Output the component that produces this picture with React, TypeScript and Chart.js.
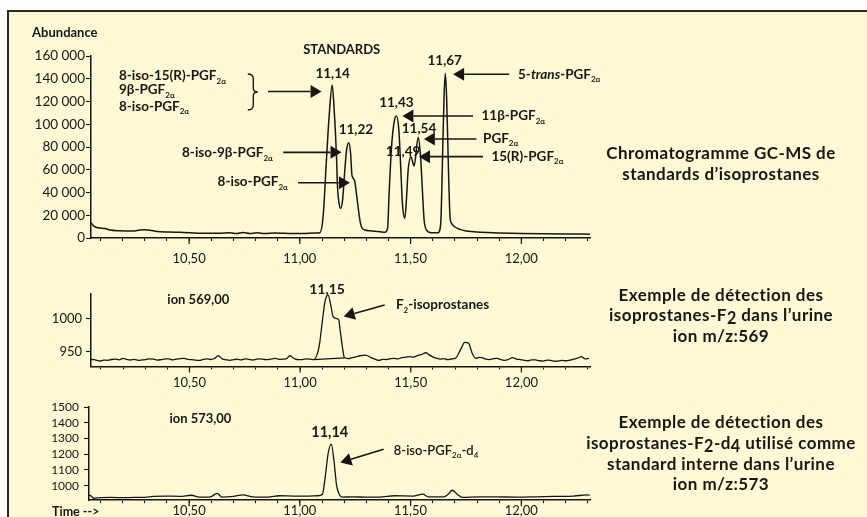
import React, { useEffect, useRef } from "react";
import { Chart, registerables } from "chart.js";

Chart.register(...registerables);

const FONT = "Lato, 'Open Sans', 'DejaVu Sans', sans-serif";
const INK = "#161616";
const CREAM = "#FFF8D4";

// ---- time axis (minutes) ----
const X_TICKS = [10.1, 10.2, 10.3, 10.4, 10.5, 10.6, 10.7, 10.8, 10.9, 11.0, 11.1, 11.2, 11.3, 11.4, 11.5, 11.6, 11.7, 11.8, 11.9, 12.0, 12.1, 12.2, 12.3];
const X_MAJOR = [10.5, 11.0, 11.5, 12.0];
const X_MAX = 12.31;

// ---- chromatogram 1: standards (abundance) ----
const STD_Y_TICKS = [0, 20000, 40000, 60000, 80000, 100000, 120000, 140000, 160000];
const STD_TIME = [
  10.057, 10.07, 10.088, 10.12, 10.143, 10.188, 10.246, 10.278, 10.3, 10.323, 10.355, 10.413, 10.458, 10.504,
  10.549, 10.594, 10.639, 10.684, 10.716, 10.743, 10.774, 10.806, 10.842, 10.887, 10.932, 10.977, 11.023,
  11.068, 11.09, 11.105, 11.12, 11.132, 11.146, 11.155, 11.166, 11.17, 11.177, 11.184, 11.193, 11.203, 11.211,
  11.221, 11.229, 11.235, 11.241, 11.248, 11.259, 11.271, 11.278, 11.293, 11.316, 11.338, 11.361, 11.384,
  11.396, 11.403, 11.414, 11.426, 11.436, 11.447, 11.456, 11.463, 11.474, 11.481, 11.489, 11.501, 11.516,
  11.534, 11.545, 11.554, 11.561, 11.572, 11.594, 11.624, 11.636, 11.644, 11.651, 11.657, 11.663, 11.671,
  11.678, 11.685, 11.699, 11.722, 11.752, 11.8, 11.9, 12.0, 12.1, 12.2, 12.31,
];
const STD_ABUNDANCE = [
  13500, 10500, 9000, 8300, 7000, 6400, 6100, 7000, 7200, 6800, 5700, 5300, 5000, 4700,
  4100, 4100, 4200, 4600, 3900, 4800, 3900, 4600, 3900, 4300, 4100, 3900, 4000,
  4300, 4600, 18700, 68600, 106600, 134500, 112500, 68600, 45100, 30500, 26100, 33400, 59800, 77400,
  83800, 74500, 55400, 52500, 49500, 33400, 15800, 9900, 7000, 6400, 5900, 5500, 5000,
  8500, 39300, 80300, 102200, 107300, 94900, 59800, 30500, 17300, 33400, 59800, 71500, 63300,
  88500, 71500, 39300, 15800, 7000, 4700, 4700, 12900, 68600, 124200, 144800, 121300, 59800,
  18700, 12900, 9900, 7600, 6200, 5200, 4500, 4000, 3700, 3500, 3400,
];

// ---- chromatogram 2: ion 569 ----
const ION569_Y_TICKS = [950, 1000];
const ION569_TIME = [
  10.055, 10.069, 10.082, 10.095, 10.112, 10.13, 10.147, 10.164, 10.182, 10.2, 10.216, 10.233, 10.25, 10.269,
  10.286, 10.303, 10.32, 10.338, 10.355, 10.372, 10.39, 10.407, 10.424, 10.441, 10.458, 10.476, 10.493,
  10.51, 10.528, 10.545, 10.562, 10.579, 10.596, 10.613, 10.63, 10.648, 10.665, 10.682, 10.7, 10.717, 10.734,
  10.751, 10.768, 10.786, 10.803, 10.82, 10.838, 10.855, 10.872, 10.889, 10.906, 10.924, 10.94, 10.953, 10.976,
  10.994, 11.011, 11.028, 11.045, 11.062, 11.079, 11.088, 11.1, 11.112, 11.126, 11.14, 11.149, 11.166, 11.175,
  11.18, 11.192, 11.2, 11.218, 11.235, 11.252, 11.27, 11.296, 11.321, 11.338, 11.356, 11.373, 11.39, 11.408,
  11.425, 11.442, 11.459, 11.477, 11.494, 11.511, 11.528, 11.548, 11.569, 11.583, 11.597, 11.615, 11.632,
  11.65, 11.667, 11.684, 11.701, 11.727, 11.744, 11.761, 11.778, 11.796, 11.809, 11.822, 11.839, 11.856,
  11.873, 11.89, 11.908, 11.926, 11.943, 11.96, 11.978, 11.995, 12.012, 12.029, 12.046, 12.064, 12.081,
  12.098, 12.116, 12.133, 12.15, 12.167, 12.184, 12.202, 12.219, 12.236, 12.254, 12.271, 12.288, 12.306,
];
const ION569_VALUE = [
  938.0, 937.9, 936.8, 935.6, 937.2, 936.7, 938.0, 938.5, 937.6, 939.6, 938.3, 937.3, 938.1, 936.7,
  937.4, 937.9, 939.0, 938.5, 937.2, 937.9, 938.9, 939.0, 937.6, 938.5, 939.4, 939.6, 938.1,
  937.9, 937.0, 936.7, 938.2, 939.0, 938.0, 939.6, 943.7, 939.0, 937.6, 936.7, 937.8, 938.5, 937.4,
  939.0, 938.3, 937.3, 938.6, 939.0, 938.0, 937.9, 939.1, 939.6, 938.3, 938.5, 939.5, 943.7, 939.0,
  937.8, 937.9, 939.0, 938.5, 937.9, 948, 962, 995, 1025, 1036, 1018, 1003, 1000, 998,
  985, 955, 941, 939.5, 940.8, 942.0, 943.7, 944.8, 940.8, 938.6, 936.7, 938.3, 937.9, 939.2,
  939.6, 939.0, 940.8, 941.4, 942.5, 941.6, 943.7, 945.5, 948.3, 945.0, 942.5, 940.2, 938.5,
  939.4, 937.9, 938.8, 939.6, 954.1, 963.9, 962.8, 947.2, 939.6, 941.2, 940.8, 938.6, 937.9,
  939.2, 939.6, 938.0, 936.7, 938.4, 940.8, 938.7, 937.9, 936.8, 936.1, 937.5, 937.3, 936.2,
  935.6, 937.0, 936.7, 935.4, 935.6, 936.8, 936.1, 937.0, 938.5, 940.0, 942.5, 939.0, 939.6,
];
const ION569_BASE_TIME = [11.062, 11.2];
const ION569_BASE_VALUE = [937.9, 940.5];

// ---- chromatogram 3: ion 573 ----
const ION573_Y_TICKS = [1000, 1100, 1200, 1300, 1400, 1500];
const ION573_TIME = [
  10.048, 10.052, 10.069, 10.1, 10.15, 10.2, 10.25, 10.3, 10.337, 10.389, 10.458, 10.51, 10.545, 10.596,
  10.627, 10.648, 10.7, 10.743, 10.786, 10.855, 10.907, 10.976, 11.028, 11.08, 11.102, 11.114, 11.128,
  11.142, 11.154, 11.166, 11.18, 11.192, 11.235, 11.304, 11.373, 11.425, 11.511, 11.555, 11.58, 11.65,
  11.67, 11.688, 11.71, 11.735, 11.805, 11.89, 11.977, 12.064, 12.15, 12.236, 12.297, 12.309,
];
const ION573_VALUE = [
  936, 939, 920, 924, 925, 924, 925, 926, 932, 934, 932, 939, 927, 929,
  951, 927, 932, 941, 929, 927, 936, 934, 934, 936, 946, 1049, 1207,
  1264, 1159, 1000, 939, 927, 929, 927, 929, 936, 934, 946, 929, 929,
  946, 971, 946, 925, 929, 929, 927, 929, 932, 934, 941, 940,
];

// ---- annotations (in data units of each chart) ----
type Part = { s: string; sub?: boolean; it?: boolean };
type Ann =
  | { kind: "text"; t: number; v: number; parts: Part[]; align: "left" | "center" | "right"; size: number; weight: number }
  | { kind: "arrow"; t1: number; v1: number; t2: number; v2: number }
  | { kind: "brace"; t: number; v1: number; v2: number };

const SUB = (s: string): Part => ({ s, sub: true });
const P = (s: string): Part => ({ s });

const STD_ANN: Ann[] = [
  { kind: "text", t: 9.791, v: 180200, parts: [P("Abundance")], align: "left", size: 13, weight: 700 },
  { kind: "text", t: 11.189, v: 165300, parts: [P("STANDARDS")], align: "center", size: 13, weight: 700 },
  { kind: "text", t: 11.148, v: 144800, parts: [P("11,14")], align: "center", size: 13.5, weight: 700 },
  { kind: "text", t: 11.253, v: 94900, parts: [P("11,22")], align: "center", size: 13.5, weight: 700 },
  { kind: "text", t: 11.436, v: 118900, parts: [P("11,43")], align: "center", size: 13.5, weight: 700 },
  { kind: "text", t: 11.538, v: 96400, parts: [P("11,54")], align: "center", size: 13.5, weight: 700 },
  { kind: "text", t: 11.466, v: 75900, parts: [P("11,49")], align: "center", size: 13.5, weight: 700 },
  { kind: "text", t: 11.654, v: 155900, parts: [P("11,67")], align: "center", size: 13.5, weight: 700 },
  { kind: "text", t: 10.183, v: 142400, parts: [P("8-iso-15(R)-PGF"), SUB("2α")], align: "left", size: 13.5, weight: 700 },
  { kind: "text", t: 10.183, v: 130100, parts: [P("9β-PGF"), SUB("2α")], align: "left", size: 13.5, weight: 700 },
  { kind: "text", t: 10.183, v: 115400, parts: [P("8-iso-PGF"), SUB("2α")], align: "left", size: 13.5, weight: 700 },
  { kind: "brace", t: 10.765, v1: 144200, v2: 112500 },
  { kind: "arrow", t1: 10.856, v1: 128800, t2: 11.098, v2: 128800 },
  { kind: "text", t: 10.878, v: 74700, parts: [P("8-iso-9β-PGF"), SUB("2α")], align: "right", size: 13.5, weight: 700 },
  { kind: "arrow", t1: 10.925, v1: 75300, t2: 11.188, v2: 75300 },
  { kind: "text", t: 10.946, v: 49400, parts: [P("8-iso-PGF"), SUB("2α")], align: "right", size: 13.5, weight: 700 },
  { kind: "arrow", t1: 10.992, v1: 48600, t2: 11.226, v2: 48600 },
  { kind: "text", t: 11.985, v: 143900, parts: [P("5-"), { s: "trans", it: true }, P("-PGF"), SUB("2α")], align: "left", size: 13.5, weight: 700 },
  { kind: "arrow", t1: 11.945, v1: 143900, t2: 11.692, v2: 143900 },
  { kind: "text", t: 11.82, v: 107300, parts: [P("11β-PGF"), SUB("2α")], align: "left", size: 13.5, weight: 700 },
  { kind: "arrow", t1: 11.782, v1: 107300, t2: 11.463, v2: 107300 },
  { kind: "text", t: 11.827, v: 87500, parts: [P("PGF"), SUB("2α")], align: "left", size: 13.5, weight: 700 },
  { kind: "arrow", t1: 11.797, v1: 87000, t2: 11.56, v2: 87000 },
  { kind: "text", t: 11.865, v: 71500, parts: [P("15(R)-PGF"), SUB("2α")], align: "left", size: 13.5, weight: 700 },
  { kind: "arrow", t1: 11.827, v1: 71500, t2: 11.538, v2: 71500 },
];

const ION569_ANN: Ann[] = [
  { kind: "text", t: 11.122, v: 1044.8, parts: [P("11,15")], align: "center", size: 14, weight: 700 },
  { kind: "text", t: 10.4, v: 1028, parts: [P("ion 569,00")], align: "left", size: 13, weight: 700 },
  { kind: "arrow", t1: 11.382, v1: 1020.8, t2: 11.197, v2: 1003.3 },
  { kind: "text", t: 11.433, v: 1020.6, parts: [P("F"), SUB("2"), P("-isoprostanes")], align: "left", size: 13.5, weight: 700 },
];

const ION573_ANN: Ann[] = [
  { kind: "text", t: 10.411, v: 1426.8, parts: [P("ion 573,00")], align: "left", size: 13, weight: 700 },
  { kind: "text", t: 11.135, v: 1342, parts: [P("11,14")], align: "center", size: 14.5, weight: 700 },
  { kind: "arrow", t1: 11.378, v1: 1231.8, t2: 11.183, v2: 1146.5 },
  { kind: "text", t: 11.424, v: 1221, parts: [P("8-iso-PGF"), SUB("2α"), P("-d"), SUB("4")], align: "left", size: 13, weight: 600 },
  { kind: "text", t: 9.881, v: 834.4, parts: [P("Time -->")], align: "left", size: 12.5, weight: 700 },
];

function drawParts(ctx: CanvasRenderingContext2D, x: number, y: number, parts: Part[], align: string, size: number, weight: number) {
  const subSize = Math.round(size * 0.62);
  const fontOf = (p: Part) => `${p.it ? "italic " : ""}${weight} ${p.sub ? subSize : size}px ${FONT}`;
  let w = 0;
  for (const p of parts) {
    ctx.font = fontOf(p);
    w += ctx.measureText(p.s).width;
  }
  let cx = align === "left" ? x : align === "right" ? x - w : x - w / 2;
  ctx.textAlign = "left";
  ctx.textBaseline = "middle";
  ctx.fillStyle = INK;
  for (const p of parts) {
    ctx.font = fontOf(p);
    ctx.fillText(p.s, cx, p.sub ? y + size * 0.38 : y);
    cx += ctx.measureText(p.s).width;
  }
}

function drawArrow(ctx: CanvasRenderingContext2D, x1: number, y1: number, x2: number, y2: number) {
  const ang = Math.atan2(y2 - y1, x2 - x1);
  const hl = 11;
  const hw = 6.5;
  const bx = x2 - hl * Math.cos(ang);
  const by = y2 - hl * Math.sin(ang);
  ctx.strokeStyle = INK;
  ctx.fillStyle = INK;
  ctx.lineWidth = 1.6;
  ctx.beginPath();
  ctx.moveTo(x1, y1);
  ctx.lineTo(bx, by);
  ctx.stroke();
  ctx.beginPath();
  ctx.moveTo(x2, y2);
  ctx.lineTo(bx + hw * Math.sin(ang), by - hw * Math.cos(ang));
  ctx.lineTo(bx - hw * Math.sin(ang), by + hw * Math.cos(ang));
  ctx.closePath();
  ctx.fill();
}

function drawBrace(ctx: CanvasRenderingContext2D, x0: number, top: number, bottom: number) {
  const w = 10;
  const mid = (top + bottom) / 2;
  const sx = x0 + w * 0.55;
  ctx.strokeStyle = INK;
  ctx.lineWidth = 1.4;
  ctx.beginPath();
  ctx.moveTo(x0, top);
  ctx.quadraticCurveTo(sx, top, sx, top + 5);
  ctx.lineTo(sx, mid - 4);
  ctx.quadraticCurveTo(sx, mid, x0 + w, mid);
  ctx.quadraticCurveTo(sx, mid, sx, mid + 4);
  ctx.lineTo(sx, bottom - 5);
  ctx.quadraticCurveTo(sx, bottom, x0, bottom);
  ctx.stroke();
}

function annotationPlugin(id: string, anns: Ann[]) {
  return {
    id,
    afterDraw(chart: any) {
      const ctx: CanvasRenderingContext2D = chart.ctx;
      const xs = chart.scales.x;
      const ys = chart.scales.y;
      const X = (t: number) => xs.getPixelForValue(t);
      const Y = (v: number) => ys.getPixelForValue(v);
      ctx.save();
      // longer major ticks on the time axis
      ctx.strokeStyle = INK;
      ctx.lineWidth = 1.2;
      for (const t of X_MAJOR) {
        ctx.beginPath();
        ctx.moveTo(X(t), chart.chartArea.bottom);
        ctx.lineTo(X(t), chart.chartArea.bottom + 6);
        ctx.stroke();
      }
      for (const a of anns) {
        if (a.kind === "text") drawParts(ctx, X(a.t), Y(a.v), a.parts, a.align, a.size, a.weight);
        else if (a.kind === "arrow") drawArrow(ctx, X(a.t1), Y(a.v1), X(a.t2), Y(a.v2));
        else drawBrace(ctx, X(a.t), Y(a.v1), Y(a.v2));
      }
      ctx.restore();
    },
  };
}

const fmtTime = (v: number) => v.toFixed(2).replace(".", ",");
const isMajor = (v: number) => X_MAJOR.some((m) => Math.abs(m - v) < 1e-6);
const fmtThousands = (v: number) => String(Math.round(v)).replace(/\B(?=(\d{3})+(?!\d))/g, " ");

type Cfg = {
  canvas: HTMLCanvasElement;
  time: number[];
  values: number[];
  extra?: { time: number[]; values: number[] };
  xMin: number;
  yMin: number;
  yMax: number;
  yTicks: number[];
  yWidth: number;
  xHeight: number;
  padTop: number;
  xPad: number;
  yPad: number;
  yFont: number;
  lineWidth: number;
  yFmt: (v: number) => string;
  anns: Ann[];
  id: string;
};

function makeChart(c: Cfg) {
  const datasets: any[] = [
    {
      data: c.time.map((t, i) => ({ x: t, y: c.values[i] })),
      borderColor: INK,
      borderWidth: c.lineWidth,
      pointRadius: 0,
      fill: false,
      cubicInterpolationMode: "monotone",
    },
  ];
  if (c.extra) {
    datasets.push({
      data: c.extra.time.map((t, i) => ({ x: t, y: c.extra!.values[i] })),
      borderColor: INK,
      borderWidth: 1.2,
      pointRadius: 0,
      fill: false,
    });
  }
  return new Chart(c.canvas, {
    type: "line",
    data: { datasets },
    options: {
      animation: false,
      responsive: false,
      events: [],
      layout: { padding: { left: 0, right: 10, top: c.padTop, bottom: 0 } },
      plugins: { legend: { display: false }, tooltip: { enabled: false }, title: { display: false } },
      scales: {
        x: {
          type: "linear",
          min: c.xMin,
          max: X_MAX,
          afterBuildTicks: (s: any) => {
            s.ticks = X_TICKS.map((v) => ({ value: v }));
          },
          afterFit: (s: any) => {
            s.height = c.xHeight;
          },
          grid: { display: true, drawOnChartArea: false, drawTicks: true, tickLength: 3, color: INK, tickColor: INK, tickWidth: 1.1 },
          border: { display: true, color: INK, width: 1.5 },
          ticks: {
            autoSkip: false,
            maxRotation: 0,
            padding: c.xPad,
            color: INK,
            font: { family: FONT, size: 13 },
            callback: (v: any) => (isMajor(Number(v)) ? fmtTime(Number(v)) : ""),
          },
        },
        y: {
          type: "linear",
          min: c.yMin,
          max: c.yMax,
          afterBuildTicks: (s: any) => {
            s.ticks = c.yTicks.map((v) => ({ value: v }));
          },
          afterFit: (s: any) => {
            s.width = c.yWidth;
          },
          grid: { display: true, drawOnChartArea: false, drawTicks: true, tickLength: 5, color: INK, tickColor: INK, tickWidth: 1.1 },
          border: { display: true, color: INK, width: 1.5 },
          ticks: {
            autoSkip: false,
            padding: c.yPad,
            color: INK,
            font: { family: FONT, size: c.yFont },
            callback: (v: any) => c.yFmt(Number(v)),
          },
        },
      },
    } as any,
    plugins: [annotationPlugin(c.id, c.anns)],
  });
}

const lineStyle: React.CSSProperties = { whiteSpace: "nowrap" };
const subStyle: React.CSSProperties = { fontSize: "0.95em", position: "relative", top: "3px" };

export default function App() {
  const r1 = useRef<HTMLCanvasElement>(null);
  const r2 = useRef<HTMLCanvasElement>(null);
  const r3 = useRef<HTMLCanvasElement>(null);

  useEffect(() => {
    const charts: Chart[] = [];
    charts.push(
      makeChart({
        canvas: r1.current!, time: STD_TIME, values: STD_ABUNDANCE, xMin: 10.057, yMin: 0, yMax: 160000,
        yTicks: STD_Y_TICKS, yWidth: 91, xHeight: 30, padTop: 56, xPad: 10, yPad: 1, yFont: 13.5, lineWidth: 1.5,
        yFmt: fmtThousands, anns: STD_ANN, id: "annStd",
      })
    );
    charts.push(
      makeChart({
        canvas: r2.current!, time: ION569_TIME, values: ION569_VALUE,
        extra: { time: ION569_BASE_TIME, values: ION569_BASE_VALUE },
        xMin: 10.055, yMin: 927.4, yMax: 1037.4, yTicks: ION569_Y_TICKS, yWidth: 91, xHeight: 23.5, padTop: 26,
        xPad: 6, yPad: 4, yFont: 13, lineWidth: 1.3, yFmt: (v) => String(v), anns: ION569_ANN, id: "ann569",
      })
    );
    charts.push(
      makeChart({
        canvas: r3.current!, time: ION573_TIME, values: ION573_VALUE, xMin: 10.048, yMin: 907.6, yMax: 1500,
        yTicks: ION573_Y_TICKS, yWidth: 89, xHeight: 16.8, padTop: 17, xPad: 0, yPad: 5, yFont: 12, lineWidth: 1.3,
        yFmt: (v) => String(v), anns: ION573_ANN, id: "ann573",
      })
    );
    return () => charts.forEach((c) => c.destroy());
  }, []);

  const textBlock = (top: number): React.CSSProperties => ({
    position: "absolute", left: 576, width: 290, top, textAlign: "center", fontFamily: FONT,
    fontWeight: 700, fontSize: 17, letterSpacing: "0.45px", lineHeight: "20.7px", color: INK,
  });

  return (
    <div style={{ position: "fixed", left: 0, top: 0, width: 867, height: 517, background: "#ffffff", overflow: "hidden" }}>
      <div style={{ position: "absolute", left: 7, top: 10, width: 900, height: 540, background: CREAM, borderLeft: "2px solid #2a2a2a", borderTop: "2px solid #2a2a2a" }} />
      <canvas ref={r1} width={600} height={268} style={{ position: "absolute", left: 0, top: 0 }} />
      <canvas ref={r2} width={600} height={122} style={{ position: "absolute", left: 0, top: 268 }} />
      <canvas ref={r3} width={600} height={127} style={{ position: "absolute", left: 0, top: 390 }} />
      <div style={textBlock(143)}>
        <div style={lineStyle}>Chromatogramme GC-MS de</div>
        <div style={lineStyle}>standards d’isoprostanes</div>
      </div>
      <div style={textBlock(284.5)}>
        <div style={lineStyle}>Exemple de détection des</div>
        <div style={lineStyle}>isoprostanes-F<span style={subStyle}>2</span> dans l’urine</div>
        <div style={lineStyle}>ion m/z:569</div>
      </div>
      <div style={textBlock(412.3)}>
        <div style={lineStyle}>Exemple de détection des</div>
        <div style={lineStyle}>isoprostanes-F<span style={subStyle}>2</span>-d<span style={subStyle}>4</span> utilisé comme</div>
        <div style={lineStyle}>standard interne dans l’urine</div>
        <div style={lineStyle}>ion m/z:573</div>
      </div>
    </div>
  );
}
